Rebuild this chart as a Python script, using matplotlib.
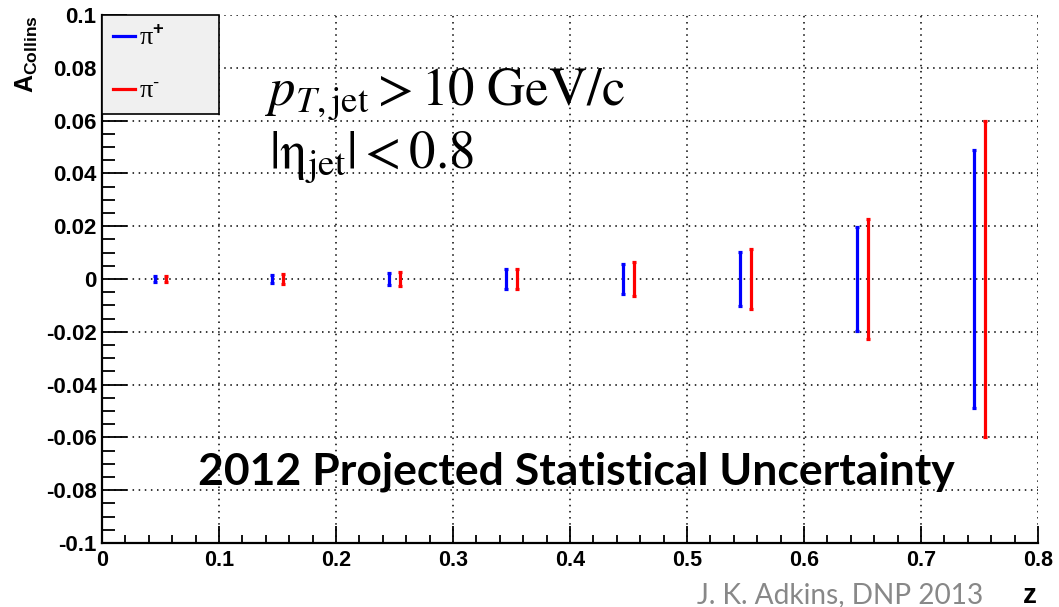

# Collins asymmetry projection: 2012 statistical uncertainties for pi+ / pi- vs z
import matplotlib
matplotlib.use("Agg")
import matplotlib.pyplot as plt
from matplotlib.lines import Line2D
from matplotlib.ticker import MultipleLocator, FuncFormatter

plt.rcParams['font.family'] = ['Liberation Sans', 'DejaVu Sans']
plt.rcParams['mathtext.fontset'] = 'custom'
plt.rcParams['mathtext.rm'] = 'Liberation Sans'
plt.rcParams['mathtext.bf'] = 'Liberation Sans:bold'
plt.rcParams['mathtext.it'] = 'Liberation Sans:italic'

# data
z_pip = [0.045, 0.145, 0.245, 0.345, 0.445, 0.545, 0.645, 0.745]
z_pim = [0.055, 0.155, 0.255, 0.355, 0.455, 0.555, 0.655, 0.755]
a_pip = [0.0, 0.0, 0.0, 0.0, 0.0, 0.0, 0.0, 0.0]
a_pim = [0.0, 0.0, 0.0, 0.0, 0.0, 0.0, 0.0, 0.0]
err_pip = [0.0011, 0.0017, 0.0024, 0.0037, 0.0058, 0.0104, 0.0197, 0.049]
err_pim = [0.0013, 0.0018, 0.0026, 0.0039, 0.0063, 0.0114, 0.0227, 0.060]
labels = [r'π$^{\mathbf{+}}$', r'π$^{\text{-}}$']

W, H = 1059, 607
fig = plt.figure(figsize=(W / 100, H / 100), dpi=100)
ax = fig.add_axes([102 / W, 1 - 543 / H, (1038 - 102) / W, (543 - 15) / H])

ax.errorbar(z_pip, a_pip, yerr=err_pip, fmt='none', ecolor='#0000ff',
            elinewidth=2.3, capsize=1.2, capthick=2.3, zorder=3)
ax.errorbar(z_pim, a_pim, yerr=err_pim, fmt='none', ecolor='#ff0000',
            elinewidth=2.3, capsize=1.2, capthick=2.3, zorder=3)

ax.set_xlim(0, 0.8)
ax.set_ylim(-0.1, 0.1)
ax.xaxis.set_major_locator(MultipleLocator(0.1))
ax.xaxis.set_minor_locator(MultipleLocator(0.02))
ax.yaxis.set_major_locator(MultipleLocator(0.02))
ax.yaxis.set_minor_locator(MultipleLocator(0.005))


def tick_fmt(v, p):
    v = round(v, 3)
    if v == 0:
        return '0'
    return '%g' % v


ax.xaxis.set_major_formatter(FuncFormatter(tick_fmt))
ax.yaxis.set_major_formatter(FuncFormatter(tick_fmt))

ax.spines['top'].set_visible(False)
ax.spines['right'].set_visible(False)
for s in ('left', 'bottom'):
    ax.spines[s].set_linewidth(1.6)
ax.tick_params(axis='both', which='both', direction='in', width=1.3)
ax.tick_params(axis='y', which='major', length=18, pad=4, labelsize=16)
ax.tick_params(axis='y', which='minor', length=9)
ax.tick_params(axis='x', which='major', length=12, pad=5, labelsize=15.5)
ax.tick_params(axis='x', which='minor', length=6)
for lab in ax.get_xticklabels() + ax.get_yticklabels():
    lab.set_fontweight('bold')

ax.grid(True, which='major', color='black', linestyle=(0, (1, 3)), linewidth=1.1)
ax.set_axisbelow(True)

handles = [Line2D([], [], color='#0000ff', lw=2.3),
           Line2D([], [], color='#ff0000', lw=2.3)]
leg = ax.legend(handles, labels, loc='upper left',
                bbox_to_anchor=(0, 0, 117 / 936, 1), mode='expand',
                borderaxespad=0, fancybox=False, framealpha=1,
                facecolor='#f0f0f0', edgecolor='black',
                handlelength=0.85, handletextpad=0.15, labelspacing=1.15,
                borderpad=0.4, prop={'family': 'Liberation Serif', 'size': 19})
leg.get_frame().set_linewidth(1.2)
leg.set_zorder(5)

fig.text(27 / W, 1 - 15 / H, r'$\mathbf{A_{Collins}}$', rotation=90,
         ha='center', va='top', fontsize=18)

fig.text(265 / W, 1 - 105 / H, r'$p_{T,\mathrm{jet}} > \mathrm{10\ GeV/c}$',
         math_fontfamily='stix', fontsize=38, ha='left', va='baseline')
fig.text(269 / W, 1 - 168 / H, r'$\mathrm{|\eta_{jet}| < 0.8}$',
         math_fontfamily='stix', fontsize=38, ha='left', va='baseline')

fig.text(198 / W, 1 - 484 / H, '2012 Projected Statistical Uncertainty',
         family='Lato', fontweight='bold', fontsize=32, ha='left', va='baseline')

fig.text(697 / W, 1 - 603 / H, 'J. K. Adkins, DNP 2013', family='Lato',
         color='#888888', fontsize=20.2, ha='left', va='baseline')
fig.text(1030 / W, 1 - 603 / H, 'z', fontweight='bold', fontsize=20,
         ha='center', va='baseline')

fig.savefig('out.png', dpi=100)
